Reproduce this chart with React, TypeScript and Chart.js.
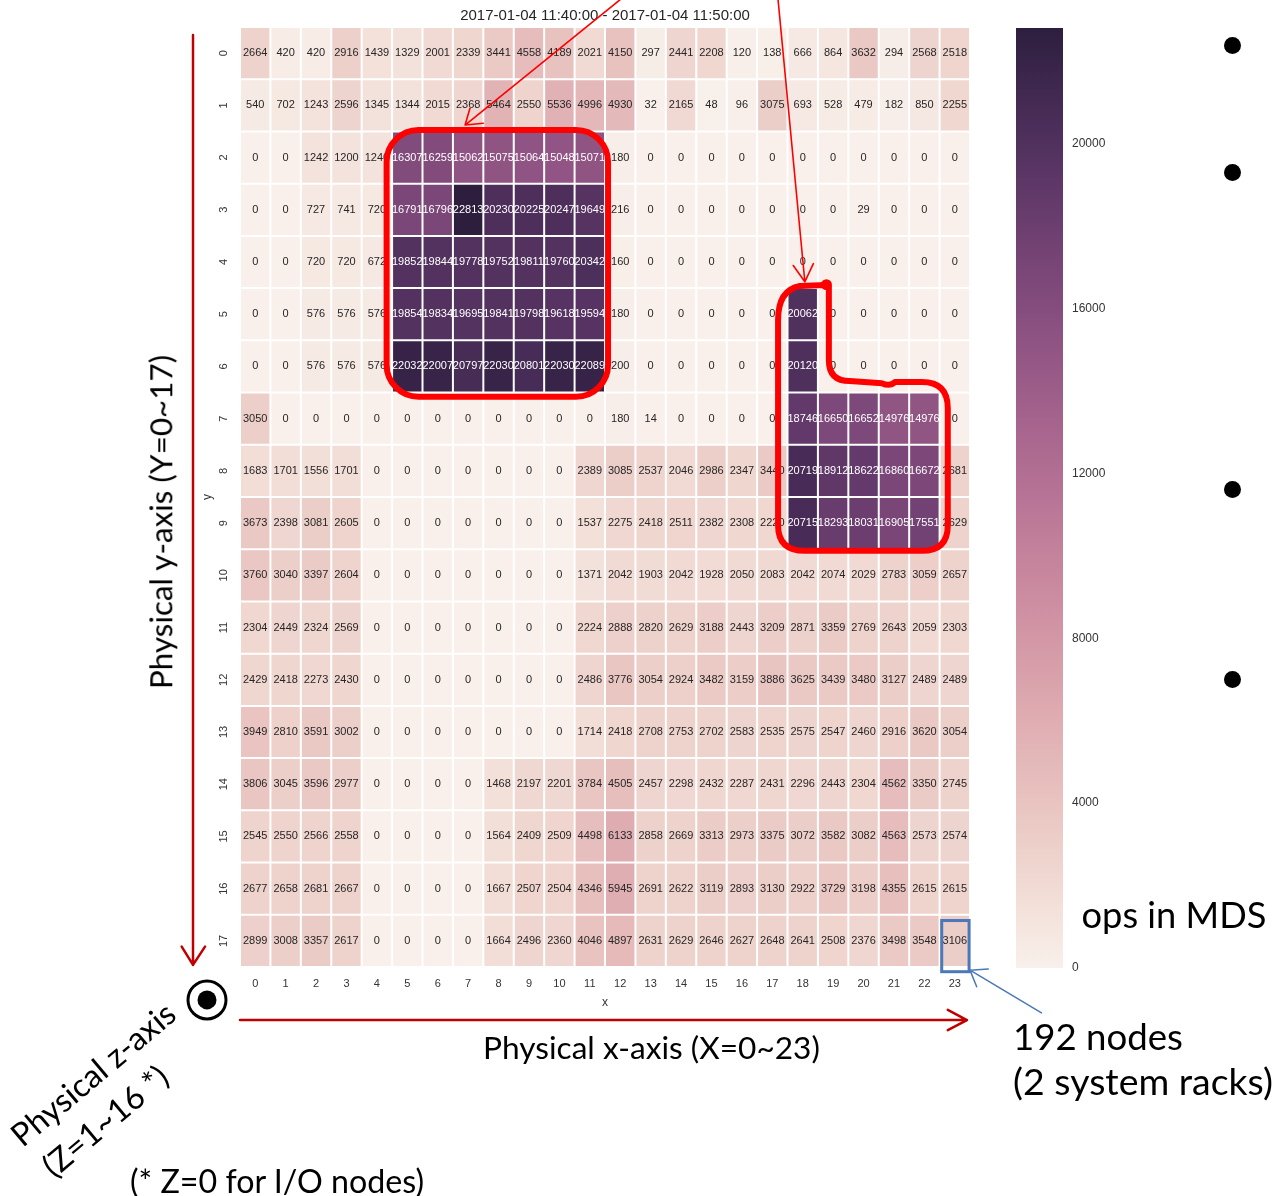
import React, { useEffect, useRef } from "react";
import { Chart, registerables } from "chart.js";

Chart.register(...registerables);

// ---------------- data ----------------
const TITLE = "2017-01-04 11:40:00 - 2017-01-04 11:50:00";
const X_LABELS = ["0","1","2","3","4","5","6","7","8","9","10","11","12","13","14","15","16","17","18","19","20","21","22","23"];
const Y_LABELS = ["0","1","2","3","4","5","6","7","8","9","10","11","12","13","14","15","16","17"];

const ROW_00 = [2664, 420, 420, 2916, 1439, 1329, 2001, 2339, 3441, 4558, 4189, 2021, 4150, 297, 2441, 2208, 120, 138, 666, 864, 3632, 294, 2568, 2518];
const ROW_01 = [540, 702, 1243, 2596, 1345, 1344, 2015, 2368, 5464, 2550, 5536, 4996, 4930, 32, 2165, 48, 96, 3075, 693, 528, 479, 182, 850, 2255];
const ROW_02 = [0, 0, 1242, 1200, 1240, 16307, 16259, 15062, 15075, 15064, 15048, 15071, 180, 0, 0, 0, 0, 0, 0, 0, 0, 0, 0, 0];
const ROW_03 = [0, 0, 727, 741, 720, 16791, 16796, 22813, 20230, 20225, 20247, 19649, 216, 0, 0, 0, 0, 0, 0, 0, 29, 0, 0, 0];
const ROW_04 = [0, 0, 720, 720, 672, 19852, 19844, 19778, 19752, 19811, 19760, 20342, 160, 0, 0, 0, 0, 0, 0, 0, 0, 0, 0, 0];
const ROW_05 = [0, 0, 576, 576, 576, 19854, 19834, 19695, 19841, 19798, 19618, 19594, 180, 0, 0, 0, 0, 0, 20062, 0, 0, 0, 0, 0];
const ROW_06 = [0, 0, 576, 576, 576, 22032, 22007, 20797, 22030, 20801, 22030, 22089, 200, 0, 0, 0, 0, 0, 20120, 0, 0, 0, 0, 0];
const ROW_07 = [3050, 0, 0, 0, 0, 0, 0, 0, 0, 0, 0, 0, 180, 14, 0, 0, 0, 0, 18746, 16650, 16652, 14976, 14976, 0];
const ROW_08 = [1683, 1701, 1556, 1701, 0, 0, 0, 0, 0, 0, 0, 2389, 3085, 2537, 2046, 2986, 2347, 3440, 20719, 18912, 18622, 16860, 16672, 2681];
const ROW_09 = [3673, 2398, 3081, 2605, 0, 0, 0, 0, 0, 0, 0, 1537, 2275, 2418, 2511, 2382, 2308, 2220, 20715, 18293, 18031, 16905, 17551, 2629];
const ROW_10 = [3760, 3040, 3397, 2604, 0, 0, 0, 0, 0, 0, 0, 1371, 2042, 1903, 2042, 1928, 2050, 2083, 2042, 2074, 2029, 2783, 3059, 2657];
const ROW_11 = [2304, 2449, 2324, 2569, 0, 0, 0, 0, 0, 0, 0, 2224, 2888, 2820, 2629, 3188, 2443, 3209, 2871, 3359, 2769, 2643, 2059, 2303];
const ROW_12 = [2429, 2418, 2273, 2430, 0, 0, 0, 0, 0, 0, 0, 2486, 3776, 3054, 2924, 3482, 3159, 3886, 3625, 3439, 3480, 3127, 2489, 2489];
const ROW_13 = [3949, 2810, 3591, 3002, 0, 0, 0, 0, 0, 0, 0, 1714, 2418, 2708, 2753, 2702, 2583, 2535, 2575, 2547, 2460, 2916, 3620, 3054];
const ROW_14 = [3806, 3045, 3596, 2977, 0, 0, 0, 0, 1468, 2197, 2201, 3784, 4505, 2457, 2298, 2432, 2287, 2431, 2296, 2443, 2304, 4562, 3350, 2745];
const ROW_15 = [2545, 2550, 2566, 2558, 0, 0, 0, 0, 1564, 2409, 2509, 4498, 6133, 2858, 2669, 3313, 2973, 3375, 3072, 3582, 3082, 4563, 2573, 2574];
const ROW_16 = [2677, 2658, 2681, 2667, 0, 0, 0, 0, 1667, 2507, 2504, 4346, 5945, 2691, 2622, 3119, 2893, 3130, 2922, 3729, 3198, 4355, 2615, 2615];
const ROW_17 = [2899, 3008, 3357, 2617, 0, 0, 0, 0, 1664, 2496, 2360, 4046, 4897, 2631, 2629, 2646, 2627, 2648, 2641, 2508, 2376, 3498, 3548, 3106];

const HEAT_ROWS = [ROW_00, ROW_01, ROW_02, ROW_03, ROW_04, ROW_05, ROW_06, ROW_07, ROW_08, ROW_09, ROW_10, ROW_11, ROW_12, ROW_13, ROW_14, ROW_15, ROW_16, ROW_17];
const COLORBAR_TICKS = [0, 4000, 8000, 12000, 16000, 20000];
const VMIN = 0;
const VMAX = Math.max(...HEAT_ROWS.map((r) => Math.max(...r)));

// ---------------- styling ----------------
const FONT = '"Liberation Sans", Arial, sans-serif';
const SLIDE_FONT = 'Lato, "Open Sans", sans-serif';
const TICK_COLOR = "#333333";
const DARK_TEXT = "#262626";

// seaborn cubehelix_palette(light=.95, as_cmap=True)
function cubehelix(t: number): [number, number, number] {
  const light = 0.95, dark = 0.15, start = 0, rot = 0.4, gamma = 1, hue = 0.8;
  const tt = Math.min(1, Math.max(0, t));
  const x = light + (dark - light) * tt;
  const xg = Math.pow(x, gamma);
  const a = (hue * xg * (1 - xg)) / 2;
  const phi = 2 * Math.PI * (start / 3 + rot * x);
  const c = Math.cos(phi), s = Math.sin(phi);
  const r = xg + a * (-0.14861 * c + 1.78277 * s);
  const g = xg + a * (-0.29227 * c - 0.90649 * s);
  const b = xg + a * (1.97294 * c);
  const cl = (v: number) => Math.min(1, Math.max(0, v));
  return [cl(r), cl(g), cl(b)];
}
const norm = (v: number) => (v - VMIN) / (VMAX - VMIN);
const rgbStr = (c: [number, number, number]) =>
  `rgb(${Math.round(c[0] * 255)},${Math.round(c[1] * 255)},${Math.round(c[2] * 255)})`;
const colorFor = (v: number) => rgbStr(cubehelix(norm(v)));
function textColorFor(v: number) {
  const c = cubehelix(norm(v)).map((u) => (u <= 0.03928 ? u / 12.92 : Math.pow((u + 0.055) / 1.055, 2.4)));
  const lum = 0.2126 * c[0] + 0.7152 * c[1] + 0.0722 * c[2];
  return lum > 0.408 ? DARK_TEXT : "#ffffff";
}

// ---------------- plugins ----------------
const cellLabelPlugin = {
  id: "cellLabels",
  afterDatasetsDraw(chart: any) {
    const ctx = chart.ctx as CanvasRenderingContext2D;
    ctx.save();
    ctx.font = `11px ${FONT}`;
    ctx.textAlign = "center";
    ctx.textBaseline = "middle";
    HEAT_ROWS.forEach((row, r) => {
      const meta = chart.getDatasetMeta(r);
      meta.data.forEach((el: any, c: number) => {
        const p = el.getProps(["x", "y", "base"], true);
        ctx.fillStyle = textColorFor(row[c]);
        ctx.fillText(String(row[c]), p.x, (p.y + p.base) / 2);
      });
    });
    ctx.restore();
  },
};

function arrow(ctx: CanvasRenderingContext2D, P: (c: number, r: number) => [number, number],
  tail: [number, number], tip: [number, number], w1: [number, number], w2: [number, number],
  color: string, lw: number) {
  const a = P(tail[0], tail[1]), b = P(tip[0], tip[1]), c1 = P(w1[0], w1[1]), c2 = P(w2[0], w2[1]);
  ctx.strokeStyle = color;
  ctx.lineWidth = lw;
  ctx.lineCap = "round";
  ctx.lineJoin = "round";
  ctx.beginPath();
  ctx.moveTo(a[0], a[1]);
  ctx.lineTo(b[0], b[1]);
  ctx.moveTo(c1[0], c1[1]);
  ctx.lineTo(b[0], b[1]);
  ctx.lineTo(c2[0], c2[1]);
  ctx.stroke();
}

const annotationPlugin = {
  id: "slideAnnotations",
  afterDraw(chart: any) {
    const ctx = chart.ctx as CanvasRenderingContext2D;
    const xs = chart.scales.x, ys = chart.scales.y;
    const X = (c: number) => xs.getPixelForValue(c - 0.5);
    const Y = (r: number) => ys.getPixelForValue(r);
    const P = (c: number, r: number): [number, number] => [X(c), Y(r)];
    ctx.save();

    // red rounded rectangle around the first hot block
    {
      const x0 = X(4.82), x1 = X(12.1), y0 = Y(1.97), y1 = Y(7.08), rad = 32;
      ctx.strokeStyle = "#ff0000";
      ctx.lineWidth = 6;
      ctx.beginPath();
      ctx.moveTo(x0 + rad, y0);
      ctx.arcTo(x1, y0, x1, y1, rad);
      ctx.arcTo(x1, y1, x0, y1, rad);
      ctx.arcTo(x0, y1, x0, y0, rad);
      ctx.arcTo(x0, y0, x1, y0, rad);
      ctx.closePath();
      ctx.stroke();
    }

    // red free-hand outline around second hot block
    {
      ctx.strokeStyle = "#ff0000";
      ctx.lineWidth = 6;
      ctx.lineJoin = "round";
      ctx.lineCap = "round";
      ctx.beginPath();
      let p = P(19.26, 4.94); ctx.moveTo(p[0], p[1]);
      p = P(18.41, 4.96); ctx.lineTo(p[0], p[1]);
      let q = P(17.69, 5.04); p = P(17.69, 5.61); ctx.quadraticCurveTo(q[0], q[1], p[0], p[1]);
      p = P(17.69, 9.54); ctx.lineTo(p[0], p[1]);
      q = P(17.69, 10.03); p = P(18.57, 10.03); ctx.quadraticCurveTo(q[0], q[1], p[0], p[1]);
      p = P(22.42, 10.03); ctx.lineTo(p[0], p[1]);
      q = P(23.27, 10.03); p = P(23.27, 9.54); ctx.quadraticCurveTo(q[0], q[1], p[0], p[1]);
      p = P(23.27, 7.3); ctx.lineTo(p[0], p[1]);
      q = P(23.27, 6.8); p = P(22.42, 6.8); ctx.quadraticCurveTo(q[0], q[1], p[0], p[1]);
      p = P(21.53, 6.8); ctx.lineTo(p[0], p[1]);
      q = P(21.37, 6.89); p = P(21.1, 6.82); ctx.quadraticCurveTo(q[0], q[1], p[0], p[1]);
      p = P(20.05, 6.78); ctx.lineTo(p[0], p[1]);
      q = P(19.36, 6.78); p = P(19.36, 6.38); ctx.quadraticCurveTo(q[0], q[1], p[0], p[1]);
      p = P(19.36, 4.98); ctx.lineTo(p[0], p[1]);
      ctx.stroke();
      const d = P(19.28, 4.935);
      ctx.fillStyle = "#ff0000";
      ctx.beginPath();
      ctx.arc(d[0], d[1], 5.5, 0, Math.PI * 2);
      ctx.fill();
    }

    // red pointer arrows
    arrow(ctx, P, [12.49, -0.52], [7.4, 1.877], [8.0, 1.844], [7.56, 1.557], "#ff0000", 1.6);
    arrow(ctx, P, [17.69, -0.52], [18.57, 4.879], [18.19, 4.567], [18.85, 4.531], "#ff0000", 1.6);

    // blue box on the last cell and its pointer
    {
      const x0 = X(23.07), x1 = X(23.97), y0 = Y(17.11), y1 = Y(18.09);
      ctx.strokeStyle = "#4a78b8";
      ctx.lineWidth = 3;
      ctx.lineJoin = "miter";
      ctx.strokeRect(x0, y0, x1 - x0, y1 - y0);
      arrow(ctx, P, [26.35, 18.88], [24.0, 18.06], [24.6, 18.04], [24.22, 18.38], "#4a78b8", 1.5);
    }

    // physical axes arrows (dark red)
    arrow(ctx, P, [-1.545, 0.153], [-1.545, 17.96], [-1.917, 17.61], [-1.15, 17.61], "#c00000", 2.5);
    arrow(ctx, P, [0, 19.016], [23.9, 19.016], [23.27, 18.82], [23.27, 19.21], "#c00000", 2.5);

    // z-axis symbol (circle with dot)
    {
      const c = P(-1.085, 18.63);
      ctx.strokeStyle = "#000";
      ctx.lineWidth = 3;
      ctx.beginPath();
      ctx.arc(c[0], c[1], 19, 0, Math.PI * 2);
      ctx.stroke();
      ctx.fillStyle = "#000";
      ctx.beginPath();
      ctx.arc(c[0], c[1], 9.5, 0, Math.PI * 2);
      ctx.fill();
    }
    ctx.restore();
  },
};

// ---------------- slide text ----------------
function fitFontSize(text: string, width: number): number {
  const c = document.createElement("canvas").getContext("2d");
  if (!c) return 30;
  c.font = `100px Lato`;
  const w = c.measureText(text).width;
  return w > 0 ? (100 * width) / w : 30;
}

function SlideText(props: { text: string; cx: number; cy: number; width?: number; rotate?: number; size?: number }) {
  const { text, cx, cy, width = 100, rotate = 0, size } = props;
  const fs = size ?? fitFontSize(text, width);
  return (
    <div
      style={{
        position: "absolute",
        left: cx,
        top: cy,
        transform: `translate(-50%, -50%) rotate(${rotate}deg)`,
        fontFamily: SLIDE_FONT,
        fontSize: fs,
        lineHeight: 1,
        whiteSpace: "nowrap",
        color: "#000",
      }}
    >
      {text}
    </div>
  );
}

function Bullet(props: { cx: number; cy: number }) {
  return (
    <div
      style={{
        position: "absolute",
        left: props.cx - 8.5,
        top: props.cy - 8.5,
        width: 17,
        height: 17,
        borderRadius: "50%",
        background: "#000",
      }}
    />
  );
}

export default function App() {
  const mainRef = useRef<HTMLCanvasElement>(null);
  const cbRef = useRef<HTMLCanvasElement>(null);

  useEffect(() => {
    if (!mainRef.current || !cbRef.current) return;
    const datasets = HEAT_ROWS.map((row, r) => ({
      label: Y_LABELS[r],
      data: row.map(() => [r, r + 1]),
      backgroundColor: row.map((v) => colorFor(v)),
      borderColor: "#ffffff",
      borderWidth: 1,
      borderSkipped: false,
      inflateAmount: 0,
      barPercentage: 1,
      categoryPercentage: 1,
      grouped: false,
    }));

    const main = new Chart(mainRef.current, {
      type: "bar",
      data: { labels: X_LABELS, datasets: datasets as any },
      options: {
        responsive: false,
        maintainAspectRatio: false,
        animation: false,
        devicePixelRatio: 1,
        layout: { padding: { top: 0, left: 0, right: 304, bottom: 0 } },
        plugins: {
          legend: { display: false },
          tooltip: { enabled: false },
          title: {
            display: true,
            text: TITLE,
            fullSize: false,
            color: DARK_TEXT,
            font: { family: FONT, size: 15, weight: "normal" },
            padding: { top: 7, bottom: 2 },
          },
        },
        scales: {
          x: {
            type: "category",
            offset: true,
            grid: { display: false, drawTicks: false },
            border: { display: false },
            ticks: { color: TICK_COLOR, font: { family: FONT, size: 11 }, padding: 10, autoSkip: false, maxRotation: 0, minRotation: 0 },
            title: { display: true, text: "x", color: TICK_COLOR, font: { family: FONT, size: 12 }, padding: { top: 0, bottom: 186 } },
            afterFit: (s: any) => { s.height = 229; },
          },
          y: {
            type: "linear",
            min: 0,
            max: Y_LABELS.length,
            reverse: true,
            grid: { display: false, drawTicks: false },
            border: { display: false },
            afterBuildTicks: (s: any) => { s.ticks = Y_LABELS.map((_, i) => ({ value: i + 0.5 })); },
            ticks: {
              callback: (_v: any, i: number) => Y_LABELS[i],
              minRotation: 90,
              maxRotation: 90,
              crossAlign: "center",
              padding: 10,
              autoSkip: false,
              color: TICK_COLOR,
              font: { family: FONT, size: 11 },
            },
            title: { display: true, text: "y", color: TICK_COLOR, font: { family: FONT, size: 12 }, padding: { top: 200, bottom: 0 } },
            afterFit: (s: any) => { s.width = 240; },
          },
        },
      } as any,
      plugins: [cellLabelPlugin, annotationPlugin],
    });

    const cb = new Chart(cbRef.current, {
      type: "bar",
      data: {
        labels: ["ops in MDS"],
        datasets: [
          {
            data: [[VMIN, VMAX]] as any,
            backgroundColor: (context: any) => {
              const area = context.chart.chartArea;
              if (!area) return colorFor((VMIN + VMAX) / 2);
              const g = context.chart.ctx.createLinearGradient(0, area.bottom, 0, area.top);
              for (let i = 0; i <= 40; i++) g.addColorStop(i / 40, rgbStr(cubehelix(i / 40)));
              return g;
            },
            borderWidth: 0,
            inflateAmount: 0,
            barPercentage: 1,
            categoryPercentage: 1,
          } as any,
        ],
      },
      options: {
        responsive: false,
        maintainAspectRatio: false,
        animation: false,
        devicePixelRatio: 1,
        layout: { padding: { top: 28, bottom: 32, left: 0, right: 0 } },
        plugins: { legend: { display: false }, tooltip: { enabled: false } },
        scales: {
          x: { display: false },
          y: {
            position: "right",
            min: VMIN,
            max: VMAX,
            grid: { display: false, drawTicks: false },
            border: { display: false },
            afterBuildTicks: (s: any) => { s.ticks = COLORBAR_TICKS.map((v) => ({ value: v })); },
            ticks: { padding: 9, color: TICK_COLOR, font: { family: FONT, size: 12 }, callback: (v: any) => String(v) },
            afterFit: (s: any) => { s.width = 63; },
          },
        },
      } as any,
    });

    return () => {
      main.destroy();
      cb.destroy();
    };
  }, []);

  return (
    <div style={{ position: "absolute", left: 0, top: 0, width: 1274, height: 1196, overflow: "hidden", background: "#ffffff" }}>
      <canvas ref={mainRef} width={1274} height={1196} style={{ position: "absolute", left: 0, top: 0 }} />
      <canvas ref={cbRef} width={110} height={1000} style={{ position: "absolute", left: 1016, top: 0 }} />

      <SlideText text="Physical y-axis (Y=0~17)" cx={161} cy={522} width={335} rotate={-90} />
      <SlideText text="Physical x-axis (X=0~23)" cx={651.5} cy={1047.5} width={337} />
      <SlideText text="Physical z-axis" cx={93.3} cy={1074} width={203} rotate={-40} />
      <SlideText text="(Z=1~16 *)" cx={105} cy={1120.7} size={fitFontSize("Physical z-axis", 203)} rotate={-40} />
      <SlideText text="(* Z=0 for I/O nodes)" cx={277} cy={1181} width={295} />
      <SlideText text="ops in MDS" cx={1174} cy={914} width={185} />
      <SlideText text="192 nodes" cx={1098} cy={1036} width={170} />
      <SlideText text="(2 system racks)" cx={1143} cy={1081} width={260} />

      <Bullet cx={1232} cy={45} />
      <Bullet cx={1232} cy={172} />
      <Bullet cx={1232} cy={489} />
      <Bullet cx={1232} cy={679} />
    </div>
  );
}
